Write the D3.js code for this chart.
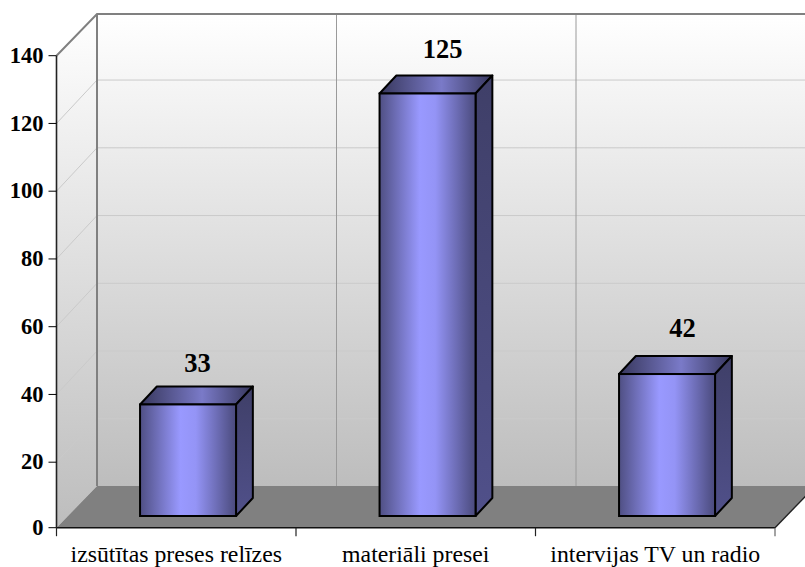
<!DOCTYPE html>
<html>
<head>
<meta charset="utf-8">
<script src="https://cdnjs.cloudflare.com/ajax/libs/d3/7.8.5/d3.min.js"></script>
<style>
  html, body { margin: 0; padding: 0; background: #fff; }
  svg { display: block; }
  text { font-family: "Liberation Serif", serif; fill: #000; }
</style>
</head>
<body>
<script>
// Chart data
var categories = ["izsūtītas preses relīzes", "materiāli presei", "intervijas TV un radio"];
var values = [33, 125, 42];
var yTicks = [0, 20, 40, 60, 80, 100, 120, 140];

var svgWidth = 805;
var svgHeight = 567;

// front plane of the 3d box
var left = 56.5, right = 775, bottom = 527.7, top_ = 55.7;
var depthX = 40.5, depthY = 41.7;   // how far back the walls sit
var gridBack = 43.4;                // gridlines climb a bit more than the walls
var barNear = 11.8;                 // bar front sits this far off the front plane
var barDepthX = 16.8, barDepthY = 18;
var barWidth = 96;

var svg = d3.select("body")
  .append("svg")
  .attr("width", svgWidth)
  .attr("height", svgHeight);

var x = d3.scaleBand().domain(categories).range([left, right]);
// tick positions: the lowest step is slightly shorter in the picture
var y = d3.scaleLinear().domain([0, 20, 140]).range([bottom, 462.2, top_]);
// bars stand on the floor, in front of the axis
var yBar = d3.scaleLinear().domain([0, 140]).range([516, 42.8]);

var defs = svg.append("defs");

function addGrad(id, vertical, stops) {
  var g = defs.append("linearGradient").attr("id", id)
    .attr("x1", 0).attr("y1", 0)
    .attr("x2", vertical ? 0 : 1).attr("y2", vertical ? 1 : 0);
  stops.forEach(function(s) {
    g.append("stop").attr("offset", s[0]).attr("stop-color", s[1]);
  });
}
addGrad("wall", true, [[0, "#ffffff"], [1, "#bdbdbd"]]);
addGrad("barFront", false, [[0, "#4f4f83"], [0.42, "#9999ff"], [0.58, "#9494f6"], [1, "#4a4a7c"]]);
addGrad("barTop", false, [[0, "#37375c"], [0.55, "#7a7ac8"], [1, "#37375c"]]);
addGrad("barSide", true, [[0, "#3f3f68"], [1, "#50508a"]]);

var line = d3.line();
var backX = left + depthX;
var backTop = top_ - depthY;
var backBottom = bottom - depthY;

// walls
svg.append("path")
  .attr("d", line([[left, top_], [backX, backTop], [backX, backBottom], [left, bottom]]) + "Z")
  .attr("fill", "url(#wall)");
svg.append("rect")
  .attr("x", backX).attr("y", backTop)
  .attr("width", svgWidth - backX).attr("height", backBottom - backTop)
  .attr("fill", "url(#wall)");

// gridlines on side wall and back wall
var grid = svg.append("g").attr("fill", "none").attr("stroke", "#cacaca").attr("stroke-width", 1);
yTicks.slice(1, -1).forEach(function(t) {
  grid.append("path").attr("d", line([[left, y(t)], [backX, y(t) - gridBack], [svgWidth, y(t) - gridBack]]));
});
[1, 2].forEach(function(i) {
  var bx = backX + i * x.step();
  svg.append("line")
    .attr("x1", bx).attr("x2", bx)
    .attr("y1", backTop).attr("y2", backBottom)
    .attr("stroke", "#9a9a9a").attr("stroke-width", 1);
});

// floor
svg.append("path")
  .attr("d", line([[left, bottom], [backX, backBottom], [right + depthX, backBottom], [right, bottom]]) + "Z")
  .attr("fill", "#808080");

// wall borders
svg.append("path")
  .attr("d", line([[left, top_], [backX, backTop], [svgWidth, backTop]]))
  .attr("fill", "none").attr("stroke", "#808080").attr("stroke-width", 2);
svg.append("line")
  .attr("x1", backX).attr("x2", backX)
  .attr("y1", backTop).attr("y2", backBottom)
  .attr("stroke", "#808080").attr("stroke-width", 2);

// axes
var leftAxis = d3.axisLeft(y).tickValues(yTicks).tickSize(8).tickSizeOuter(0).tickPadding(5).offset(0);
var yG = svg.append("g").attr("transform", "translate(" + left + ",0)").call(leftAxis);
yG.select(".domain").attr("stroke", "#222").attr("stroke-width", 1.6);
yG.selectAll("text")
  .attr("font-size", 22.5).attr("font-weight", "bold")
  .style("font-family", '"Liberation Serif", serif');

var bottomAxis = d3.axisBottom(x).tickSize(0).tickPadding(17).offset(0);
var xG = svg.append("g").attr("transform", "translate(0," + bottom + ")").call(bottomAxis);
xG.select(".domain").remove();
xG.selectAll("text")
  .attr("font-size", 23.8)
  .style("font-family", '"Liberation Serif", serif');
svg.append("line").attr("x1", left).attr("x2", right).attr("y1", bottom).attr("y2", bottom)
  .attr("stroke", "#111").attr("stroke-width", 1.6);
// ticks between the categories
[0, 1, 2, 3].forEach(function(i) {
  var tx = left + i * x.step();
  svg.append("line").attr("x1", tx).attr("x2", tx).attr("y1", bottom).attr("y2", bottom + 8.5)
    .attr("stroke", i == 3 ? "#666" : "#222").attr("stroke-width", 1.2);
});
// right edge of floor
svg.append("line").attr("x1", right).attr("y1", bottom).attr("x2", right + depthX).attr("y2", backBottom)
  .attr("stroke", "#222").attr("stroke-width", 1.4);

// bars
var labelDx = [9.5, 15, 15.5];
var labelDy = [14, 17.5, 19];
var bars = svg.selectAll("g.bar").data(values).enter().append("g").attr("class", "bar");

bars.each(function(d, i) {
  var g = d3.select(this);
  var x0 = x(categories[i]) + x.bandwidth() / 2 - barWidth / 2 + barNear;
  var x1 = x0 + barWidth;
  var yb = yBar(0);
  var yt = yBar(d);

  g.append("path")
    .attr("d", line([[x0, yt], [x0 + barDepthX, yt - barDepthY], [x1 + barDepthX, yt - barDepthY], [x1, yt]]) + "Z")
    .attr("fill", "url(#barTop)").attr("stroke", "#000").attr("stroke-width", 2).attr("stroke-linejoin", "round");
  g.append("path")
    .attr("d", line([[x1, yt], [x1 + barDepthX, yt - barDepthY], [x1 + barDepthX, yb - barDepthY], [x1, yb]]) + "Z")
    .attr("fill", "url(#barSide)").attr("stroke", "#000").attr("stroke-width", 2).attr("stroke-linejoin", "round");
  g.append("rect")
    .attr("x", x0).attr("y", yt).attr("width", barWidth).attr("height", yb - yt)
    .attr("fill", "url(#barFront)").attr("stroke", "#000").attr("stroke-width", 2);

  g.append("text")
    .attr("x", (x0 + x1) / 2 + labelDx[i])
    .attr("y", yt - barDepthY - labelDy[i])
    .attr("text-anchor", "middle")
    .attr("font-size", 26.5).attr("font-weight", "bold")
    .text(d);
});
</script>
</body>
</html>
